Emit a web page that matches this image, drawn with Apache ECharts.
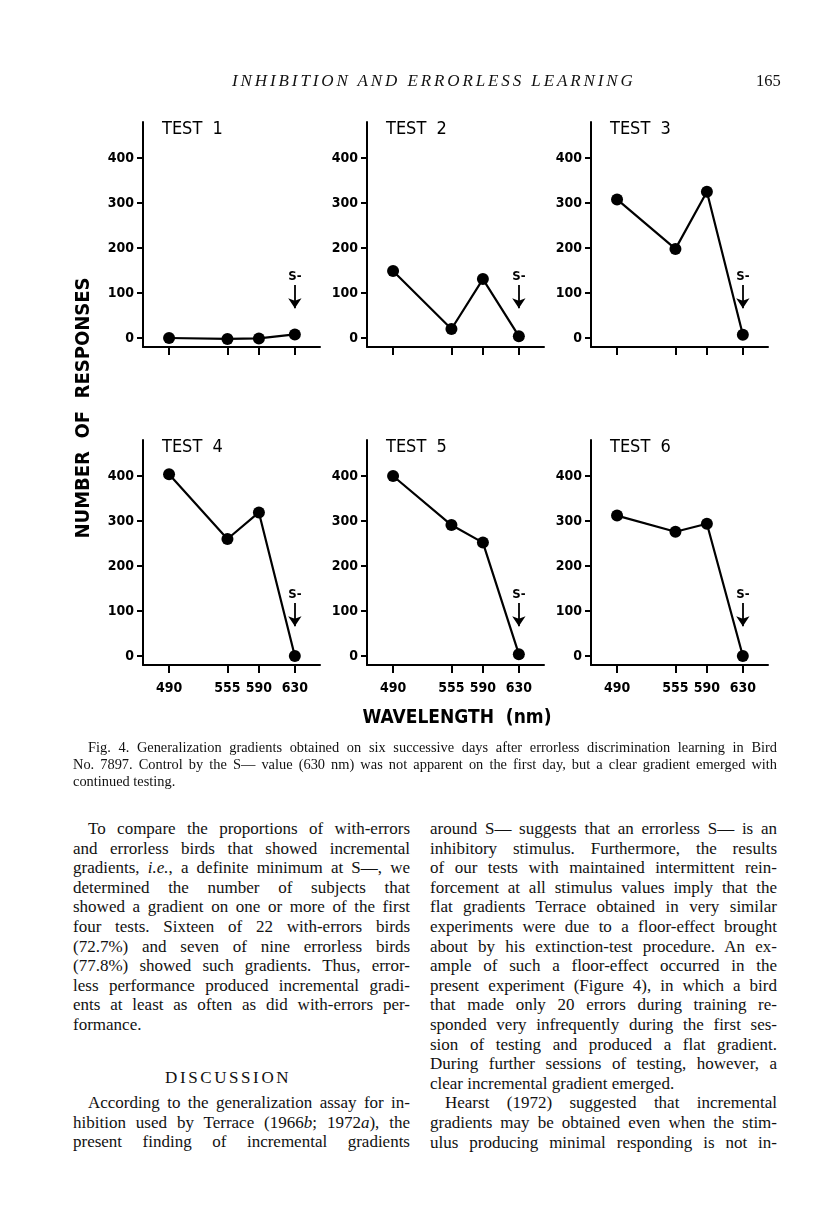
<!DOCTYPE html>
<html>
<head>
<meta charset="utf-8">
<script src="https://cdn.jsdelivr.net/npm/echarts@6/dist/echarts.min.js"></script>
<style>
  html, body { margin:0; padding:0; background:#fff; }
  body { width:816px; height:1207px; position:relative; overflow:hidden; }
  #fig { position:absolute; left:0; top:0; width:816px; height:800px; }
  .serif { font-family:'Liberation Serif','Times New Roman','DejaVu Serif',serif; color:#111; }
  .hdr { position:absolute; top:71px; font-size:17px; font-style:italic; letter-spacing:2.9px; white-space:nowrap; }
  .pg { position:absolute; top:71px; left:756px; font-size:16.5px; }
  .col { position:absolute; top:819px; font-size:17px; line-height:19.6px; }
  .ln { text-align:justify; text-align-last:justify; height:19.6px; overflow:visible; white-space:normal; }
  .ln.end { text-align-last:left; }
  .ln.ind { padding-left:15px; }
  .ln.ctr { text-align:left; text-align-last:left; letter-spacing:2.6px; padding-left:92px; }
  .cap { position:absolute; left:73px; top:739px; width:704px; font-size:14.4px; line-height:17px; }
  .cap .ln { height:17px; }
</style>
</head>
<body>
<div id="fig"></div>
<div class="serif hdr" style="left:232px;">INHIBITION AND ERRORLESS LEARNING</div>
<div class="serif pg">165</div>
<div class="serif cap" id="cap"></div>
<div class="serif col" id="colL" style="left:73px;width:337px;"></div>
<div class="serif col" id="colR" style="left:430px;width:347px;"></div>
<script>
// ---------- data ----------
const wavelengths = [490, 555, 590, 630];
const test1 = [0, -2, -1, 8];
const test2 = [149, 20, 131, 4];
const test3 = [308, 198, 325, 7];
const test4 = [404, 260, 319, 0];
const test5 = [400, 291, 252, 4];
const test6 = [312, 276, 294, 0];
const testNames = ['TEST  1', 'TEST  2', 'TEST  3', 'TEST  4', 'TEST  5', 'TEST  6'];
const yTicks = [0, 100, 200, 300, 400];
const sMinusValue = 630;
const sMinusArrow = [118, 66];

// ---------- layout ----------
const FIG_FONT = "'DejaVu Sans Condensed','Liberation Sans Narrow','DejaVu Sans',sans-serif";
const colLefts = [143, 367, 591];
const rowTops = [122, 440];
const gridW = 177, gridH = 225;
const black = '#000';

const panels = [test1, test2, test3, test4, test5, test6];
const grids = [], xAxes = [], yAxes = [], series = [], titles = [];
panels.forEach((vals, i) => {
  const col = i % 3, row = Math.floor(i / 3);
  grids.push({ left: colLefts[col], top: rowTops[row], width: gridW, height: gridH });
  xAxes.push({
    type: 'value', gridIndex: i, min: 461, max: 658,
    axisLine: { show: true, onZero: false, lineStyle: { color: black, width: 2 } },
    axisTick: { show: true, customValues: wavelengths, length: 8, lineStyle: { color: black, width: 2 } },
    axisLabel: { show: row === 1, customValues: wavelengths, margin: 16, color: black,
      fontWeight: 'bold', fontSize: 14, fontFamily: FIG_FONT },
    splitLine: { show: false }
  });
  yAxes.push({
    type: 'value', gridIndex: i, min: -20, max: 480,
    axisLine: { show: true, onZero: false, lineStyle: { color: black, width: 2 } },
    axisTick: { show: true, customValues: yTicks, length: 6, lineStyle: { color: black, width: 2 } },
    axisLabel: { customValues: yTicks, margin: 9, color: black, fontWeight: 'bold',
      fontSize: 14, fontFamily: FIG_FONT },
    splitLine: { show: false }
  });
  titles.push({
    text: testNames[i], left: colLefts[col] + 19, top: rowTops[row] - 2, padding: 0,
    textStyle: { fontSize: 18, fontWeight: 'normal', fontFamily: FIG_FONT, color: black }
  });
  series.push({
    type: 'line', xAxisIndex: i, yAxisIndex: i,
    data: wavelengths.map((w, j) => [w, vals[j]]),
    symbol: 'circle', symbolSize: 12, showSymbol: true,
    itemStyle: { color: black }, lineStyle: { color: black, width: 2.2 },
    animation: false, silent: true,
    markLine: {
      silent: true, animation: false,
      symbol: ['none', 'arrow'], symbolSize: 10,
      lineStyle: { color: black, width: 1.8, type: 'solid' },
      label: { show: true, position: 'start', formatter: 'S-', distance: 2, color: black,
        fontWeight: 'bold', fontSize: 13, fontFamily: FIG_FONT },
      data: [[{ coord: [sMinusValue, sMinusArrow[0]] }, { coord: [sMinusValue, sMinusArrow[1]] }]]
    }
  });
});

const chart = echarts.init(document.getElementById('fig'));
chart.setOption({
  animation: false,
  title: titles,
  grid: grids, xAxis: xAxes, yAxis: yAxes, series: series,
  graphic: [
    { type: 'text', x: 84, y: 408, rotation: Math.PI / 2,
      style: { text: 'NUMBER  OF  RESPONSES', align: 'center', verticalAlign: 'middle',
        font: "bold 20px " + FIG_FONT, fill: black } },
    { type: 'text', x: 457, y: 718,
      style: { text: 'WAVELENGTH  (nm)', align: 'center', verticalAlign: 'middle',
        font: "bold 19px " + FIG_FONT, fill: black } }
  ]
});

// ---------- text ----------
const captionLines = [
  ['ind', 'Fig. 4. Generalization gradients obtained on six successive days after errorless discrimination learning in Bird'],
  ['', 'No. 7897. Control by the S— value (630 nm) was not apparent on the first day, but a clear gradient emerged with'],
  ['end', 'continued testing.']
];
const leftLines = [
  ['ind', 'To compare the proportions of with-errors'],
  ['', 'and errorless birds that showed incremental'],
  ['', 'gradients, <i>i.e.</i>, a definite minimum at S—, we'],
  ['', 'determined the number of subjects that'],
  ['', 'showed a gradient on one or more of the first'],
  ['', 'four tests. Sixteen of 22 with-errors birds'],
  ['', '(72.7%) and seven of nine errorless birds'],
  ['', '(77.8%) showed such gradients. Thus, error-'],
  ['', 'less performance produced incremental gradi-'],
  ['', 'ents at least as often as did with-errors per-'],
  ['end', 'formance.'],
  ['gap', ''],
  ['ctr', 'DISCUSSION'],
  ['ind', 'According to the generalization assay for in-'],
  ['', 'hibition used by Terrace (1966<i>b</i>; 1972<i>a</i>), the'],
  ['', 'present finding of incremental gradients']
];
const rightLines = [
  ['', 'around S— suggests that an errorless S— is an'],
  ['', 'inhibitory stimulus. Furthermore, the results'],
  ['', 'of our tests with maintained intermittent rein-'],
  ['', 'forcement at all stimulus values imply that the'],
  ['', 'flat gradients Terrace obtained in very similar'],
  ['', 'experiments were due to a floor-effect brought'],
  ['', 'about by his extinction-test procedure. An ex-'],
  ['', 'ample of such a floor-effect occurred in the'],
  ['', 'present experiment (Figure 4), in which a bird'],
  ['', 'that made only 20 errors during training re-'],
  ['', 'sponded very infrequently during the first ses-'],
  ['', 'sion of testing and produced a flat gradient.'],
  ['', 'During further sessions of testing, however, a'],
  ['end', 'clear incremental gradient emerged.'],
  ['ind', 'Hearst (1972) suggested that incremental'],
  ['', 'gradients may be obtained even when the stim-'],
  ['', 'ulus producing minimal responding is not in-']
];
function fill(id, lines) {
  const el = document.getElementById(id);
  lines.forEach(([cls, html]) => {
    const d = document.createElement('div');
    d.className = 'ln' + (cls ? ' ' + cls : '');
    if (cls === 'gap') { d.style.height = '33.4px'; }
    if (cls === 'ctr') { d.style.height = '25px'; }
    d.innerHTML = html || '&nbsp;';
    el.appendChild(d);
  });
}
fill('cap', captionLines);
fill('colL', leftLines);
fill('colR', rightLines);
</script>
</body>
</html>
